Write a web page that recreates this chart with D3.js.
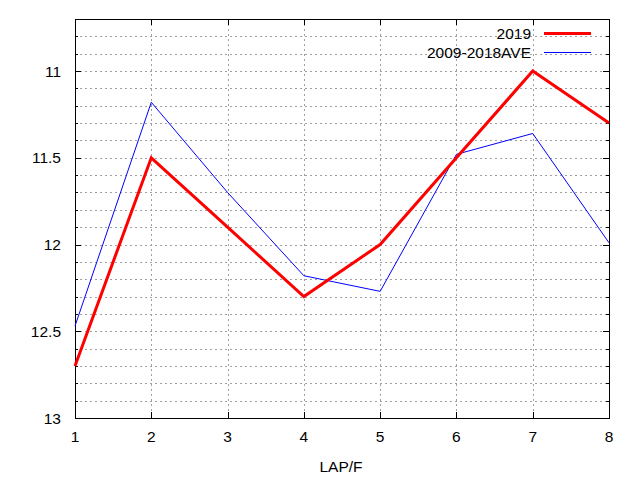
<!DOCTYPE html>
<html>
<head>
<meta charset="utf-8">
<script src="https://cdn.jsdelivr.net/npm/d3@7"></script>
<style>
  body { margin: 0; background: #fff; }
  text { font-family: "Liberation Sans", Arial, sans-serif; font-size: 15.5px; fill: #000; }
</style>
</head>
<body>
<div id="chart"></div>
<script>
// data
const laps = [1, 2, 3, 4, 5, 6, 7, 8];
const y2019 = [12.7, 11.5, 11.9, 12.3, 12.0, 11.5, 11.0, 11.3];
const yAve = [12.47, 11.18, 11.7, 12.18, 12.27, 11.48, 11.36, 11.99];
const seriesNames = ["2019", "2009-2018AVE"];
const yTickLabels = [11, 11.5, 12, 12.5, 13];

const w = 640;
const h = 480;
const plotL = 75, plotR = 609, plotT = 19, plotB = 418;

const svg = d3.select("#chart").append("svg")
    .attr("width", w)
    .attr("height", h);

const x = d3.scaleLinear().domain([1, 8]).range([plotL, plotR]);
// y is inverted: small times on top
const y = d3.scaleLinear().domain([10.7, 13]).range([plotT, plotB]);

// grid
const minorY = d3.range(108, 130).map(v => v / 10);
svg.append("g").selectAll("line")
    .data(minorY)
    .enter().append("line")
    .attr("x1", plotL).attr("x2", plotR)
    .attr("y1", d => Math.round(y(d)) + 0.5)
    .attr("y2", d => Math.round(y(d)) + 0.5)
    .style("stroke", "#a0a0a0")
    .style("stroke-dasharray", "2,3");

svg.append("g").selectAll("line")
    .data(laps.slice(1, -1))
    .enter().append("line")
    .attr("x1", d => Math.round(x(d)) + 0.5)
    .attr("x2", d => Math.round(x(d)) + 0.5)
    .attr("y1", plotT).attr("y2", plotB)
    .style("stroke", "#a0a0a0")
    .style("stroke-dasharray", "2,3");

// ticks on all four sides
const ticks = svg.append("g").style("stroke", "#000");
minorY.forEach(v => {
  const len = yTickLabels.includes(v) ? 6 : 3;
  const yy = Math.round(y(v)) + 0.5;
  ticks.append("line").attr("x1", plotL).attr("x2", plotL + len).attr("y1", yy).attr("y2", yy);
  ticks.append("line").attr("x1", plotR - len).attr("x2", plotR).attr("y1", yy).attr("y2", yy);
});
laps.forEach(v => {
  const xx = Math.round(x(v)) + 0.5;
  ticks.append("line").attr("x1", xx).attr("x2", xx).attr("y1", plotB - 6).attr("y2", plotB);
  ticks.append("line").attr("x1", xx).attr("x2", xx).attr("y1", plotT).attr("y2", plotT + 6);
});

// frame
svg.append("rect")
    .attr("x", plotL + 0.5).attr("y", plotT + 0.5)
    .attr("width", plotR - plotL).attr("height", plotB - plotT)
    .style("fill", "none")
    .style("stroke", "#000");

// tick labels
svg.append("g").selectAll("text")
    .data(yTickLabels)
    .enter().append("text")
    .attr("x", 61)
    .attr("y", d => y(d) + 5.5)
    .attr("text-anchor", "end")
    .text(d => d);

svg.append("g").selectAll("text")
    .data(laps)
    .enter().append("text")
    .attr("x", d => x(d))
    .attr("y", 442)
    .attr("text-anchor", "middle")
    .text(d => d);

svg.append("text")
    .attr("x", 341).attr("y", 472)
    .attr("text-anchor", "middle")
    .text("LAP/F");

// lines
const line = d3.line()
    .x((d, i) => x(laps[i]))
    .y(d => y(d));

svg.append("path")
    .datum(yAve)
    .attr("d", line)
    .style("fill", "none")
    .style("stroke", "#0000ff")
    .style("stroke-width", 1);

svg.append("path")
    .datum(y2019)
    .attr("d", line)
    .style("fill", "none")
    .style("stroke", "#ff0000")
    .style("stroke-width", 3);

// legend
const colors = ["#ff0000", "#0000ff"];
const widths = [3, 1];
seriesNames.forEach((name, i) => {
  const ly = 33.5 + i * 19;
  svg.append("text")
      .attr("x", 531).attr("y", ly + 5)
      .attr("text-anchor", "end")
      .text(name);
  svg.append("line")
      .attr("x1", 544).attr("x2", 591)
      .attr("y1", ly).attr("y2", ly)
      .style("stroke", colors[i])
      .style("stroke-width", widths[i]);
});
</script>
</body>
</html>
